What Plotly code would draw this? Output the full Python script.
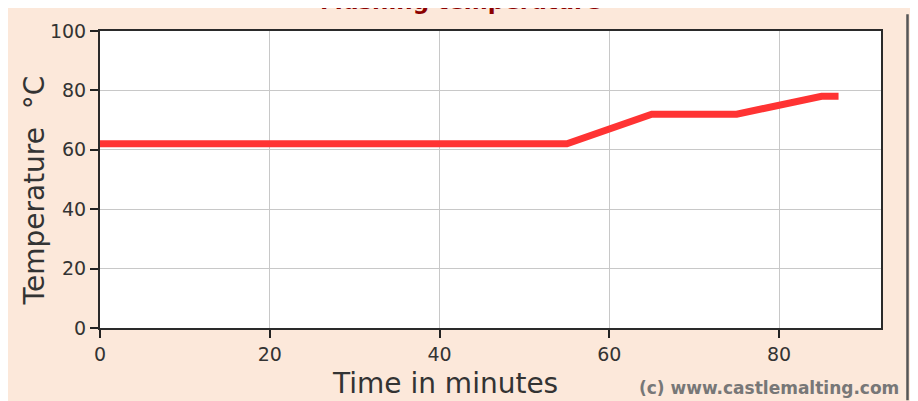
import plotly.graph_objects as go

# Data
time_min = [0, 55, 65, 75, 85, 87]
temp_c = [62, 62, 72, 72, 78, 78]
x_ticks = [0, 20, 40, 60, 80]
y_ticks = [0, 20, 40, 60, 80, 100]

# The page body has an 8px margin; the figure starts at page (8, 8)
OFF = 8
W, H = 902, 393
L, R, T, B = 92, 29, 20, 73
PW = W - L - R
PH = H - T - B


def px_x(p):  # page pixel -> paper x
    return (p - OFF - L) / PW


def px_y(p):  # page pixel -> paper y
    return (H - B - (p - OFF)) / PH


PEACH = "#fce8da"
TXT = "#333333"
FONT = "DejaVu Sans"

fig = go.Figure()
fig.add_trace(go.Scatter(
    x=time_min, y=temp_c, mode="lines",
    line=dict(color="#ff3333", width=7),
    hoverinfo="skip", showlegend=False,
))

axis_common = dict(
    showline=True, linecolor="#2a2a2a", linewidth=2, mirror=True,
    ticks="outside", ticklen=8, tickcolor="#222222", tickwidth=1.5,
    showgrid=True, gridcolor="#c8c8c8", gridwidth=1,
    zeroline=False,
    tickfont=dict(family=FONT, size=19, color=TXT),
)

fig.update_xaxes(range=[0, 92], tickvals=x_ticks, **axis_common)
fig.update_yaxes(range=[0, 100], tickvals=y_ticks, **axis_common)

shapes = [
    # dark right edge of the panel
    dict(type="line", xref="paper", yref="paper", x0=px_x(907.5), x1=px_x(907.5),
         y0=px_y(401), y1=px_y(11), line=dict(color="#555555", width=2.5)),
]

annotations = [
    dict(text="<b>Mashing temperature</b>", xref="paper", yref="paper",
         x=px_x(460), y=px_y(13), xanchor="center", yanchor="bottom", showarrow=False,
         font=dict(family=FONT, size=23, color="#8b0000")),
    dict(text="Time in minutes", xref="paper", yref="paper",
         x=px_x(445), y=px_y(384), xanchor="center", yanchor="middle", showarrow=False,
         font=dict(family=FONT, size=28, color=TXT)),
    dict(text="Temperature \u00a0°C", xref="paper", yref="paper", textangle=-90,
         x=px_x(34), y=px_y(189), xanchor="center", yanchor="middle", showarrow=False,
         font=dict(family=FONT, size=28, color=TXT)),
    dict(text="<b>(c) www.castlemalting.com</b>", xref="paper", yref="paper",
         x=px_x(901), y=px_y(389), xanchor="right", yanchor="middle", showarrow=False,
         font=dict(family=FONT, size=17, color="#777777")),
]

fig.update_layout(
    width=W, height=H, autosize=False,
    margin=dict(l=L, r=R, t=T, b=B, pad=0),
    paper_bgcolor=PEACH, plot_bgcolor="white",
    shapes=shapes, annotations=annotations,
    showlegend=False,
)

fig.write_html("out.html")
